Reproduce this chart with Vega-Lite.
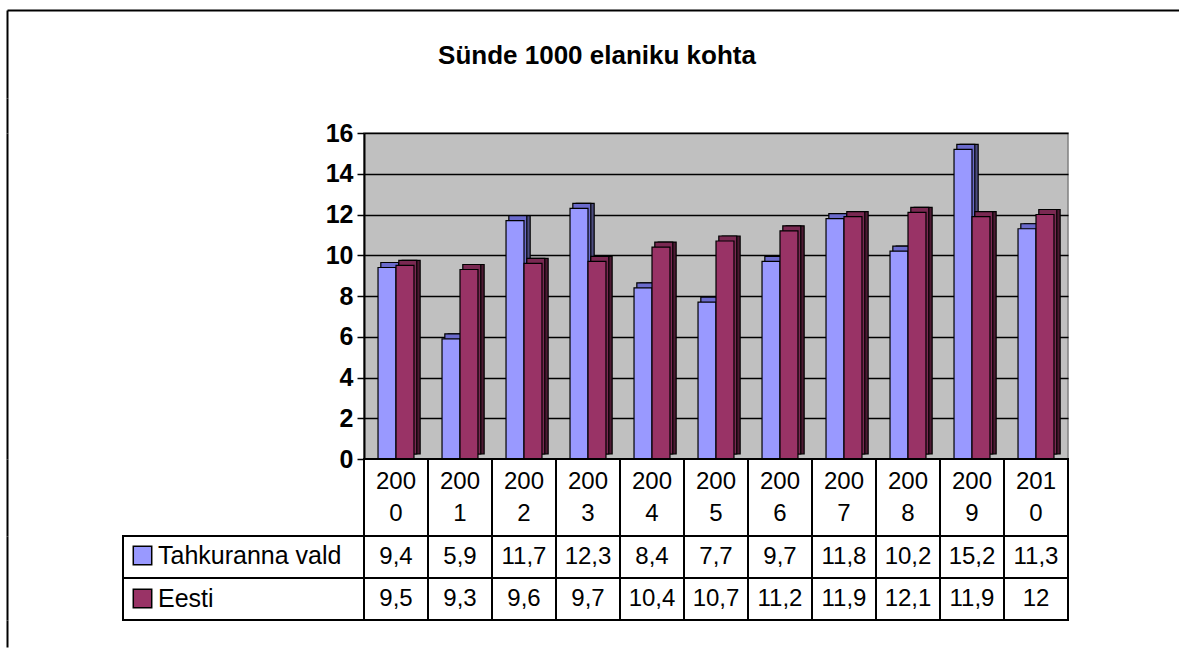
{
  "$schema": "https://vega.github.io/schema/vega-lite/v6.json",
  "background": "white",
  "padding": {"left": 4, "top": 10, "right": 0, "bottom": 0},
  "datasets": {
    "rows": [
      {"year": "2000", "series": "Tahkuranna vald", "value": 9.4},
      {"year": "2001", "series": "Tahkuranna vald", "value": 5.9},
      {"year": "2002", "series": "Tahkuranna vald", "value": 11.7},
      {"year": "2003", "series": "Tahkuranna vald", "value": 12.3},
      {"year": "2004", "series": "Tahkuranna vald", "value": 8.4},
      {"year": "2005", "series": "Tahkuranna vald", "value": 7.7},
      {"year": "2006", "series": "Tahkuranna vald", "value": 9.7},
      {"year": "2007", "series": "Tahkuranna vald", "value": 11.8},
      {"year": "2008", "series": "Tahkuranna vald", "value": 10.2},
      {"year": "2009", "series": "Tahkuranna vald", "value": 15.2},
      {"year": "2010", "series": "Tahkuranna vald", "value": 11.3},
      {"year": "2000", "series": "Eesti", "value": 9.5},
      {"year": "2001", "series": "Eesti", "value": 9.3},
      {"year": "2002", "series": "Eesti", "value": 9.6},
      {"year": "2003", "series": "Eesti", "value": 9.7},
      {"year": "2004", "series": "Eesti", "value": 10.4},
      {"year": "2005", "series": "Eesti", "value": 10.7},
      {"year": "2006", "series": "Eesti", "value": 11.2},
      {"year": "2007", "series": "Eesti", "value": 11.9},
      {"year": "2008", "series": "Eesti", "value": 12.1},
      {"year": "2009", "series": "Eesti", "value": 11.9},
      {"year": "2010", "series": "Eesti", "value": 12}
    ],
    "series": [
      {"series": "Tahkuranna vald"},
      {"series": "Eesti"}
    ],
    "blank": [{}]
  },
  "spacing": 0,
  "bounds": "flush",
  "resolve": {
    "scale": {"color": "independent", "x": "independent", "y": "independent", "xOffset": "independent"},
    "legend": {"color": "independent"}
  },
  "vconcat": [
    {
      "width": 1172, "height": 88,
      "data": {"name": "blank"},
      "layer": [
        {
          "mark": {"type": "point", "opacity": 0},
          "encoding": {
            "x": {"datum": 0, "type": "quantitative", "scale": {"domain": [0, 1]}, "axis": {"orient": "top", "domainColor": "black", "domainWidth": 2, "labels": false, "ticks": false, "grid": false, "title": null}},
            "y": {"datum": 0, "type": "quantitative", "scale": {"domain": [0, 1]}, "axis": {"orient": "left", "domainColor": "black", "domainWidth": 2, "labels": false, "ticks": false, "grid": false, "title": null}}
          }
        },
        {
          "mark": {"type": "text", "text": "Sünde 1000 elaniku kohta", "fontSize": 26, "fontWeight": "bold", "font": "Liberation Sans", "color": "black", "align": "center", "baseline": "middle", "dx": 4, "dy": 2},
          "encoding": {}
        }
      ]
    },
    {
      "columns": 4,
      "spacing": 0,
      "bounds": "flush",
      "resolve": {
        "scale": {"color": "independent", "x": "independent", "y": "independent", "xOffset": "independent"},
        "legend": {"color": "independent"}
      },
      "concat": [
        {"width": 116, "height": 35, "data": {"name": "blank"}, "mark": {"type": "point", "opacity": 0},
         "encoding": {"y": {"datum": 0, "type": "quantitative", "scale": {"domain": [0, 1]}, "axis": {"orient": "left", "domainColor": "black", "domainWidth": 2, "labels": false, "ticks": false, "grid": false, "title": null}}}},
        {"width": 241, "height": 35, "data": {"name": "blank"}, "mark": {"type": "point", "opacity": 0}, "encoding": {}},
        {"width": 704, "height": 35, "data": {"name": "blank"}, "mark": {"type": "point", "opacity": 0}, "encoding": {}},
        {"width": 111, "height": 35, "data": {"name": "blank"}, "mark": {"type": "point", "opacity": 0}, "encoding": {}},

        {"width": 116, "height": 326, "data": {"name": "blank"}, "mark": {"type": "point", "opacity": 0},
         "encoding": {"y": {"datum": 0, "type": "quantitative", "scale": {"domain": [0, 1]}, "axis": {"orient": "left", "domainColor": "black", "domainWidth": 2, "labels": false, "ticks": false, "grid": false, "title": null}}}},
        {"width": 241, "height": 326, "data": {"name": "blank"}, "mark": {"type": "point", "opacity": 0}, "encoding": {}},
        {
          "width": 704, "height": 326,
          "view": {"fill": "#C0C0C0", "stroke": "#808080", "strokeWidth": 1.5},
          "data": {"name": "rows"},
          "encoding": {
            "x": {"field": "year", "type": "nominal", "scale": {"paddingInner": 0, "paddingOuter": 0}, "axis": null},
            "y": {
              "field": "value", "type": "quantitative",
              "scale": {"domain": [0, 16], "nice": false},
              "axis": {
                "values": [0, 2, 4, 6, 8, 10, 12, 14, 16], "title": null,
                "grid": true, "gridColor": "black", "gridWidth": 1.5,
                "domainColor": "black", "domainWidth": 2,
                "tickColor": "black", "tickSize": 7, "tickWidth": 1.5,
                "labelFontSize": 25, "labelFontWeight": "bold", "labelFont": "Liberation Sans", "labelColor": "black", "labelPadding": 4
              }
            }
          },
          "resolve": {"scale": {"xOffset": "independent"}},
          "layer": [
            {
              "mark": {"type": "bar", "yOffset": -5, "y2Offset": -5, "stroke": "black", "strokeWidth": 1.2},
              "encoding": {
                "xOffset": {"field": "series", "type": "nominal", "sort": null, "scale": {"domain": ["Tahkuranna vald", "Eesti"], "paddingInner": 0, "paddingOuter": 0.78, "align": 0.72}},
                "fill": {"condition": {"test": "datum.series === 'Eesti'", "value": "#4D1A33"}, "value": "#4D4D80"}
              }
            },
            {
              "mark": {"type": "bar", "yOffset": -5, "y2Offset": -5, "stroke": "black", "strokeWidth": 1.2},
              "encoding": {
                "xOffset": {"field": "series", "type": "nominal", "sort": null, "scale": {"domain": ["Tahkuranna vald", "Eesti"], "paddingInner": 0, "paddingOuter": 0.78, "align": 0.6}},
                "fill": {"condition": {"test": "datum.series === 'Eesti'", "value": "#7A2952"}, "value": "#6B6BCC"}
              }
            },
            {
              "mark": {"type": "bar", "stroke": "black", "strokeWidth": 1.2},
              "encoding": {
                "xOffset": {"field": "series", "type": "nominal", "sort": null, "scale": {"domain": ["Tahkuranna vald", "Eesti"], "paddingInner": 0, "paddingOuter": 0.78, "align": 0.5}},
                "fill": {"field": "series", "type": "nominal", "scale": {"domain": ["Tahkuranna vald", "Eesti"], "range": ["#9999FF", "#993366"]}, "legend": null}
              }
            }
          ]
        },
        {"width": 111, "height": 326, "data": {"name": "blank"}, "mark": {"type": "point", "opacity": 0}, "encoding": {}},

        {"width": 116, "height": 77, "data": {"name": "blank"}, "mark": {"type": "point", "opacity": 0},
         "encoding": {"y": {"datum": 0, "type": "quantitative", "scale": {"domain": [0, 1]}, "axis": {"orient": "left", "domainColor": "black", "domainWidth": 2, "labels": false, "ticks": false, "grid": false, "title": null}}}},
        {"width": 241, "height": 77, "data": {"name": "blank"}, "mark": {"type": "point", "opacity": 0}, "encoding": {}},
        {
          "width": 704, "height": 77,
          "data": {"name": "rows"},
          "transform": [
            {"filter": "datum.series === 'Eesti'"},
            {"calculate": "[slice(datum.year, 0, 3), slice(datum.year, 3)]", "as": "lines"}
          ],
          "encoding": {
            "x": {"field": "year", "type": "nominal", "scale": {"paddingInner": 0, "paddingOuter": 0}, "axis": null}
          },
          "layer": [
            {"mark": {"type": "rect", "fill": "white", "stroke": "black", "strokeWidth": 2}},
            {"mark": {"type": "text", "fontSize": 24, "font": "Liberation Sans", "lineHeight": 32, "baseline": "middle", "dy": -16, "color": "black"}, "encoding": {"text": {"field": "lines"}}}
          ]
        },
        {"width": 111, "height": 77, "data": {"name": "blank"}, "mark": {"type": "point", "opacity": 0}, "encoding": {}},

        {"width": 116, "height": 84, "data": {"name": "blank"}, "mark": {"type": "point", "opacity": 0},
         "encoding": {"y": {"datum": 0, "type": "quantitative", "scale": {"domain": [0, 1]}, "axis": {"orient": "left", "domainColor": "black", "domainWidth": 2, "labels": false, "ticks": false, "grid": false, "title": null}}}},
        {
          "width": 241, "height": 84,
          "data": {"name": "series"},
          "encoding": {
            "y": {"field": "series", "type": "nominal", "sort": null, "scale": {"domain": ["Tahkuranna vald", "Eesti"], "paddingInner": 0, "paddingOuter": 0}, "axis": null}
          },
          "layer": [
            {"mark": {"type": "rect", "fill": "white", "stroke": "black", "strokeWidth": 2}},
            {
              "mark": {"type": "square", "opacity": 0},
              "encoding": {
                "color": {
                  "field": "series", "type": "nominal",
                  "scale": {"domain": ["Tahkuranna vald", "Eesti"], "range": ["#9999FF", "#993366"]},
                  "legend": {
                    "orient": "top-left", "offset": 7, "title": null, "padding": 0,
                    "symbolType": "square", "symbolSize": 340, "symbolOpacity": 1,
                    "symbolStrokeColor": "black", "symbolStrokeWidth": 1.5,
                    "labelFontSize": 25, "labelFont": "Liberation Sans", "labelColor": "black",
                    "labelOffset": 3, "rowPadding": 17, "labelLimit": 0
                  }
                }
              }
            }
          ]
        },
        {
          "width": 704, "height": 84,
          "data": {"name": "rows"},
          "encoding": {
            "x": {"field": "year", "type": "nominal", "scale": {"paddingInner": 0, "paddingOuter": 0}, "axis": null},
            "y": {"field": "series", "type": "nominal", "sort": null, "scale": {"domain": ["Tahkuranna vald", "Eesti"], "paddingInner": 0, "paddingOuter": 0}, "axis": null}
          },
          "layer": [
            {"mark": {"type": "rect", "fill": "white", "stroke": "black", "strokeWidth": 2}},
            {"mark": {"type": "text", "fontSize": 24, "font": "Liberation Sans", "color": "black"}, "encoding": {"text": {"field": "value", "type": "quantitative", "format": "~g"}}}
          ]
        },
        {"width": 111, "height": 84, "data": {"name": "blank"}, "mark": {"type": "point", "opacity": 0}, "encoding": {}},

        {"width": 116, "height": 27, "data": {"name": "blank"}, "mark": {"type": "point", "opacity": 0},
         "encoding": {"y": {"datum": 0, "type": "quantitative", "scale": {"domain": [0, 1]}, "axis": {"orient": "left", "domainColor": "black", "domainWidth": 2, "labels": false, "ticks": false, "grid": false, "title": null}}}},
        {"width": 241, "height": 27, "data": {"name": "blank"}, "mark": {"type": "point", "opacity": 0}, "encoding": {}},
        {"width": 704, "height": 27, "data": {"name": "blank"}, "mark": {"type": "point", "opacity": 0}, "encoding": {}},
        {"width": 111, "height": 27, "data": {"name": "blank"}, "mark": {"type": "point", "opacity": 0}, "encoding": {}}
      ]
    }
  ],
  "config": {
    "font": "Liberation Sans",
    "view": {"stroke": null},
    "locale": {"number": {"decimal": ",", "thousands": " ", "grouping": [3], "currency": ["", " €"]}}
  }
}
